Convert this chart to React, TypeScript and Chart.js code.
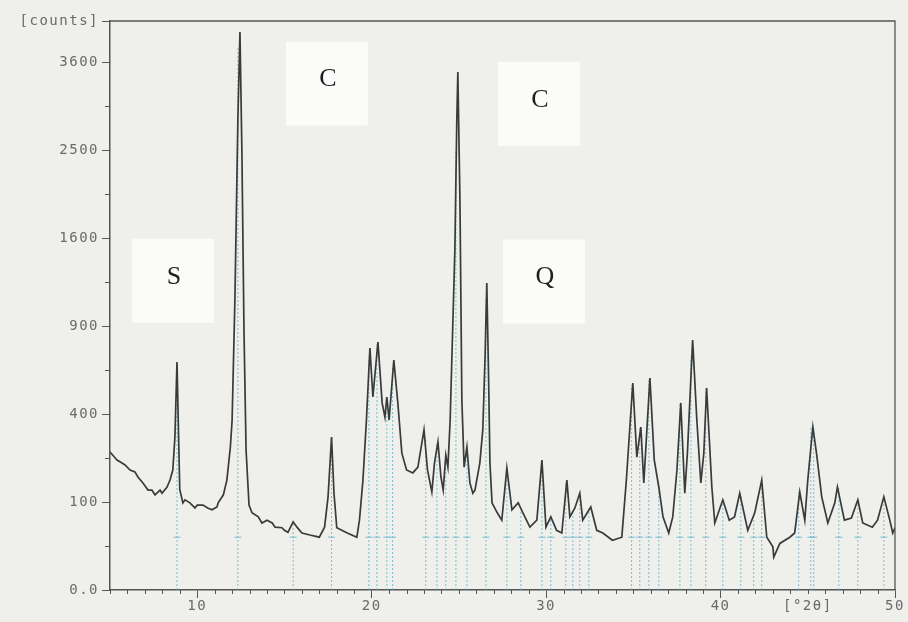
import React, { useEffect, useRef } from 'react';
import { Chart, registerables } from 'chart.js';

Chart.register(...registerables);

// Diffraction pattern: angle [°2θ] and intensity [counts]
const twoTheta = [
  5.0, 5.3, 5.4, 5.69, 5.86, 6.15, 6.43, 6.6, 6.9, 7.18, 7.4, 7.58, 7.87, 7.98, 8.27, 8.44, 8.6, 8.72, 8.84, 8.95,
  9.0, 9.18, 9.3, 9.58, 9.87, 10.0, 10.33, 10.6, 10.85, 11.13, 11.2, 11.5, 11.7, 11.9, 12.0, 12.16, 12.33, 12.45, 12.56, 12.68,
  12.8, 12.97, 13.14, 13.5, 13.71, 14.0, 14.3, 14.46, 14.86, 15.0, 15.2, 15.5, 15.72, 16.0,
  16.46, 17.0, 17.3, 17.5, 17.7, 17.84, 18.0, 18.6,
  19.15, 19.3, 19.5, 19.7, 19.9, 20.07, 20.36, 20.6, 20.76, 20.87, 21.0, 21.27, 21.5, 21.73, 22.0, 22.36, 22.65, 23.0, 23.2, 23.45,
  23.6, 23.8, 23.97, 24.1, 24.25, 24.37, 24.5, 24.77, 24.88, 24.94, 25.06, 25.17, 25.3, 25.46, 25.63, 25.8, 25.92, 26.2, 26.37, 26.5,
  26.6, 26.7, 26.78, 26.9, 27.2, 27.46, 27.75, 28.04, 28.4, 28.67, 29.07, 29.47, 29.76, 29.99, 30.27, 30.6, 30.9, 31.19, 31.36, 31.65,
  31.93, 32.1, 32.56, 32.9, 33.25, 33.8, 34.34, 34.6, 34.97, 35.2, 35.43, 35.6, 35.95, 36.2, 36.46, 36.7, 37.03, 37.26, 37.5, 37.72,
  37.95, 38.1, 38.4, 38.64, 38.87, 39.04, 39.2, 39.5, 39.67, 40.13, 40.5, 40.8, 41.1, 41.56, 41.96, 42.36, 42.65, 43.0, 43.05, 43.4,
  43.97, 44.25, 44.54, 44.83, 45.0, 45.29, 45.5, 45.8, 46.15, 46.55, 46.7, 47.1, 47.5, 47.87, 48.15, 48.7, 49.0, 49.36, 49.7, 49.87,
  50.0,
];
const counts = [
  246, 225, 218, 208, 202, 186, 180, 165, 147, 129, 129, 117, 129, 121, 137, 156, 186, 300, 671, 250,
  130, 98, 105, 98, 87, 93, 93, 87, 83, 89, 98, 117, 156, 264, 373, 1086, 2852, 4020, 2500, 873,
  253, 93, 77, 69, 58, 63, 58, 51, 50, 46, 43, 60, 51, 42,
  39, 36, 51, 112, 302, 121, 50, 42,
  36, 63, 156, 373, 756, 481, 794, 452, 386, 481, 373, 683, 452, 242, 186, 177, 195, 331, 186, 124,
  208, 283, 165, 129, 235, 195, 373, 1492, 2852, 3465, 1964, 466, 195, 264, 148, 121, 129, 208, 331, 700,
  1217, 600, 208, 98, 77, 63, 192, 83, 98, 77, 51, 63, 218, 51, 69, 46, 42, 156, 69, 87,
  121, 63, 89, 46, 42, 32, 36, 156, 553, 228, 343, 148, 580, 218, 137, 69, 42, 69, 186, 452,
  121, 242, 807, 373, 148, 242, 527, 137, 58, 105, 63, 69, 121, 46, 77, 156, 36, 24, 14, 28,
  36, 42, 124, 63, 156, 343, 242, 112, 58, 98, 137, 63, 67, 105, 58, 51, 63, 112, 63, 42,
  50,
];

// Reference pattern sticks (cyan dotted lines)
const refPositions = [
  8.84, 12.33, 15.5, 17.7, 19.84, 20.3, 20.87, 21.2, 23.1, 23.74, 24.25, 24.83, 25.46, 26.55, 27.75, 28.55, 29.76, 30.27, 31.13, 31.53,
  31.93, 32.45, 34.9, 35.37, 35.89, 36.46, 37.67, 38.3, 39.15, 40.13, 41.16, 41.9, 42.36, 44.48, 45.17, 45.34, 46.78, 47.87, 49.36,
];
const refHeights = [
  671, 3800, 60, 300, 700, 780, 470, 650, 300, 280, 235, 2500, 260, 1100, 190, 80, 215, 69, 150, 80,
  120, 89, 540, 340, 570, 137, 450, 700, 520, 105, 120, 77, 156, 124, 340, 340, 137, 105, 112,
];
const refMarkerCount = 36;

// Axis ticks
const yMajorCounts = [0, 100, 400, 900, 1600, 2500, 3600];
const yMajorLabels = ['0.0', '100', '400', '900', '1600', '2500', '3600'];
const yMinorCounts = [25, 225, 625, 1225, 2025, 3025];
const yTopCount = 4181;
const yTopLabel = '[counts]';
const xMin = 5;
const xMax = 50;
const xMajorTicks = [10, 20, 30, 40, 50];
const xUnitTick = 45;
const xUnitLabel = '[°2θ]';

// Phase annotations
const phaseLabels = ['S', 'C', 'C', 'Q'];
const phaseX = [8.67, 17.49, 29.64, 29.93];
const phaseY = [1267, 3364, 3102, 1260];

const REF_COLOR = 'rgba(95,178,200,0.8)';
const AXIS_COLOR = '#555555';
const TEXT_COLOR = '#6a6a6a';

export default function App() {
  const ref = useRef<HTMLCanvasElement | null>(null);

  useEffect(() => {
    document.body.style.margin = '0';
    document.body.style.background = '#efefec';
    const canvas = ref.current;
    if (!canvas) return;

    const sq = (v: number) => Math.sqrt(v);
    const near = (a: number, b: number) => Math.abs(a - b) < 1e-6;

    const curve = twoTheta.map((t, i) => ({ x: t, y: sq(counts[i]) }));
    const sticks: { x: number; y: number | null }[] = [];
    refPositions.forEach((p, i) => {
      sticks.push({ x: p, y: 0 });
      sticks.push({ x: p, y: sq(refHeights[i]) });
      sticks.push({ x: p, y: null });
    });
    const markers = refPositions.map((p) => ({ x: p, y: sq(refMarkerCount) }));

    const yTickVals = [
      ...yMajorCounts.map(sq),
      ...yMinorCounts.map(sq),
      sq(yTopCount),
    ].sort((a, b) => a - b);
    const xTickVals: number[] = [];
    for (let v = xMin; v <= xMax; v++) xTickVals.push(v);

    const isYMajor = (v: number) =>
      yMajorCounts.some((c) => near(sq(c), v)) || near(sq(yTopCount), v);
    const isXMajor = (v: number) => xMajorTicks.some((c) => near(c, v));

    const bgPlugin = {
      id: 'bgPlugin',
      beforeDraw(chart: any) {
        const { ctx, width, height } = chart;
        ctx.save();
        ctx.fillStyle = '#efefec';
        ctx.fillRect(0, 0, width, height);
        ctx.restore();
        try { ctx.letterSpacing = '1.5px'; } catch (e) {}
      },
      beforeDatasetsDraw(chart: any) {
        const { ctx, scales } = chart;
        ctx.save();
        ctx.fillStyle = '#fbfbfa';
        phaseLabels.forEach((_, i) => {
          const px = scales.x.getPixelForValue(phaseX[i]);
          const py = scales.y.getPixelForValue(sq(phaseY[i]));
          ctx.fillRect(px - 42, py - 38, 82, 84);
        });
        ctx.restore();
      },
      afterDatasetsDraw(chart: any) {
        const { ctx, scales } = chart;
        ctx.save();
        try { ctx.letterSpacing = '0px'; } catch (e) {}
        ctx.fillStyle = '#1e1e1e';
        ctx.font = '26px "Liberation Serif", "DejaVu Serif", serif';
        ctx.textAlign = 'center';
        ctx.textBaseline = 'middle';
        phaseLabels.forEach((t, i) => {
          const px = scales.x.getPixelForValue(phaseX[i]);
          const py = scales.y.getPixelForValue(sq(phaseY[i]));
          ctx.fillText(t, px, py);
        });
        ctx.restore();
      },
      afterDraw(chart: any) {
        const { ctx, chartArea, scales } = chart;
        ctx.save();
        ctx.strokeStyle = AXIS_COLOR;
        ctx.lineWidth = 1.3;
        ctx.beginPath();
        ctx.moveTo(chartArea.left, chartArea.top);
        ctx.lineTo(chartArea.right, chartArea.top);
        ctx.lineTo(chartArea.right, chartArea.bottom);
        ctx.stroke();
        // minor ticks
        ctx.lineWidth = 1;
        ctx.beginPath();
        yTickVals.forEach((v) => {
          if (isYMajor(v)) return;
          const py = Math.round(scales.y.getPixelForValue(v)) + 0.5;
          ctx.moveTo(chartArea.left - 5, py);
          ctx.lineTo(chartArea.left, py);
        });
        xTickVals.forEach((v) => {
          if (isXMajor(v)) return;
          const px = Math.round(scales.x.getPixelForValue(v)) + 0.5;
          ctx.moveTo(px, chartArea.bottom);
          ctx.lineTo(px, chartArea.bottom + 4);
        });
        ctx.stroke();
        ctx.restore();
      },
    };

    const chart = new Chart(canvas, {
      type: 'line',
      data: {
        datasets: [
          {
            type: 'line',
            data: curve,
            borderColor: '#3a3a3a',
            borderWidth: 1.7,
            pointRadius: 0,
            tension: 0,
            order: 0,
          },
          {
            type: 'line',
            data: sticks as any,
            borderColor: REF_COLOR,
            borderWidth: 1,
            borderDash: [2, 2],
            pointRadius: 0,
            spanGaps: false,
            order: 2,
          },
          {
            type: 'scatter',
            data: markers,
            pointStyle: 'line',
            pointRadius: 3.5,
            borderColor: REF_COLOR,
            borderWidth: 1,
            order: 1,
          } as any,
        ],
      },
      options: {
        animation: false,
        responsive: false,
        devicePixelRatio: 1,
        events: [],
        layout: { padding: { top: 21, right: 13, left: 0, bottom: 0 } },
        plugins: { legend: { display: false }, tooltip: { enabled: false } },
        scales: {
          x: {
            type: 'linear',
            min: xMin,
            max: xMax,
            afterFit: (s: any) => { s.height = 32; },
            afterBuildTicks: (s: any) => { s.ticks = xTickVals.map((v) => ({ value: v })); },
            border: { color: AXIS_COLOR, width: 1.5 },
            grid: {
              drawOnChartArea: false,
              tickLength: 8,
              tickColor: (c: any) => (c.tick && isXMajor(c.tick.value) ? AXIS_COLOR : 'rgba(0,0,0,0)'),
            },
            ticks: {
              autoSkip: false,
              maxRotation: 0,
              padding: 0,
              color: TEXT_COLOR,
              font: { family: '"DejaVu Sans Mono", monospace', size: 14 },
              callback: (v: any) => {
                const n = Number(v);
                if (near(n, xUnitTick)) return xUnitLabel;
                return isXMajor(n) ? String(n) : '';
              },
            },
          },
          y: {
            type: 'linear',
            min: 0,
            max: sq(yTopCount),
            afterFit: (s: any) => { s.width = 110; },
            afterBuildTicks: (s: any) => { s.ticks = yTickVals.map((v) => ({ value: v })); },
            border: { color: AXIS_COLOR, width: 1.5 },
            grid: {
              drawOnChartArea: false,
              tickLength: 8,
              tickColor: (c: any) => (c.tick && isYMajor(c.tick.value) ? AXIS_COLOR : 'rgba(0,0,0,0)'),
            },
            ticks: {
              autoSkip: false,
              padding: 3,
              color: TEXT_COLOR,
              font: { family: '"DejaVu Sans Mono", monospace', size: 14 },
              callback: (v: any) => {
                const n = Number(v);
                if (near(n, sq(yTopCount))) return yTopLabel;
                const idx = yMajorCounts.findIndex((c) => near(sq(c), n));
                return idx >= 0 ? yMajorLabels[idx] : '';
              },
            },
          },
        },
      },
      plugins: [bgPlugin],
    } as any);

    return () => chart.destroy();
  }, []);

  return <canvas ref={ref} width={908} height={622} style={{ display: 'block', width: 908, height: 622 }} />;
}
